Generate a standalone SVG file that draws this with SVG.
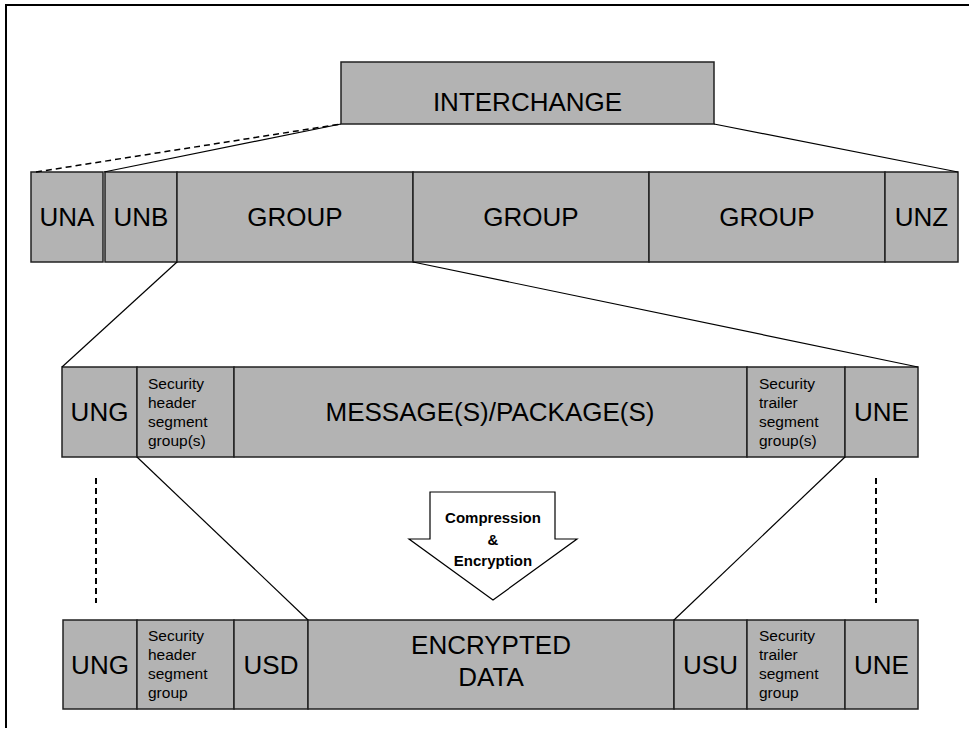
<svg xmlns="http://www.w3.org/2000/svg" width="969" height="731" viewBox="0 0 969 731">
<style>
.box{fill:#b3b3b3;stroke:#222;stroke-width:1.5}
.big{font-family:"Liberation Sans",Arial,sans-serif;font-size:26px;fill:#000;text-anchor:middle}
.small{font-family:"Liberation Sans",Arial,sans-serif;font-size:15.5px;fill:#000}
.arrowtxt{font-family:"Liberation Sans",Arial,sans-serif;font-size:15px;font-weight:bold;fill:#000;text-anchor:middle}
.ln{stroke:#000;stroke-width:1.2;fill:none}
.dash{stroke:#000;stroke-width:1.5;fill:none;stroke-dasharray:6 4}
.vdash{stroke:#000;stroke-width:2;fill:none;stroke-dasharray:6 4}
</style>
<rect width="969" height="731" fill="#fff"/>
<path d="M6,728 V5 H969" fill="none" stroke="#000" stroke-width="2"/>

<g id="interchange">
<rect class="box" x="341" y="62" width="373" height="62"/>
<text class="big" x="527.5" y="111">INTERCHANGE</text>
</g>

<g id="row1">
<g id="una"><rect class="box" x="31" y="172" width="72" height="90"/><text class="big" x="67" y="226">UNA</text></g>
<g id="unb"><rect class="box" x="105" y="172" width="72" height="90"/><text class="big" x="141" y="226">UNB</text></g>
<g id="group1"><rect class="box" x="177" y="172" width="236" height="90"/><text class="big" x="295" y="226">GROUP</text></g>
<g id="group2"><rect class="box" x="413" y="172" width="236" height="90"/><text class="big" x="531" y="226">GROUP</text></g>
<g id="group3"><rect class="box" x="649" y="172" width="236" height="90"/><text class="big" x="767" y="226">GROUP</text></g>
<g id="unz"><rect class="box" x="885" y="172" width="73" height="90"/><text class="big" x="921.5" y="226">UNZ</text></g>
</g>

<g id="row2">
<g id="ung1"><rect class="box" x="62" y="367" width="75" height="90"/><text class="big" x="99.5" y="421">UNG</text></g>
<g id="sechdr1"><rect class="box" x="137" y="367" width="97" height="90"/>
<text class="small"><tspan x="148" y="389">Security</tspan><tspan x="148" y="408">header</tspan><tspan x="148" y="427">segment</tspan><tspan x="148" y="446">group(s)</tspan></text></g>
<g id="message"><rect class="box" x="234" y="367" width="513" height="90"/><text class="big" x="490" y="421">MESSAGE(S)/PACKAGE(S)</text></g>
<g id="sectrl1"><rect class="box" x="747" y="367" width="98" height="90"/>
<text class="small"><tspan x="759" y="389">Security</tspan><tspan x="759" y="408">trailer</tspan><tspan x="759" y="427">segment</tspan><tspan x="759" y="446">group(s)</tspan></text></g>
<g id="une1"><rect class="box" x="845" y="367" width="73" height="90"/><text class="big" x="881.5" y="421">UNE</text></g>
</g>

<g id="arrow">
<polygon points="430,492 555,492 555,539 577,539 493,600 409,539 430,539" fill="#fff" stroke="#000" stroke-width="1.2"/>
<text class="arrowtxt"><tspan x="493" y="523">Compression</tspan><tspan x="493" y="545">&amp;</tspan><tspan x="493" y="566">Encryption</tspan></text>
</g>

<g id="row3">
<g id="ung2"><rect class="box" x="63" y="620" width="74" height="89"/><text class="big" x="100" y="674">UNG</text></g>
<g id="sechdr2"><rect class="box" x="137" y="620" width="97" height="89"/>
<text class="small"><tspan x="148" y="641">Security</tspan><tspan x="148" y="660">header</tspan><tspan x="148" y="679">segment</tspan><tspan x="148" y="698">group</tspan></text></g>
<g id="usd"><rect class="box" x="234" y="620" width="74" height="89"/><text class="big" x="271" y="674">USD</text></g>
<g id="encrypted"><rect class="box" x="308" y="620" width="366" height="89"/><text class="big"><tspan x="491" y="654">ENCRYPTED</tspan><tspan x="491" y="686">DATA</tspan></text></g>
<g id="usu"><rect class="box" x="674" y="620" width="73" height="89"/><text class="big" x="710.5" y="674">USU</text></g>
<g id="sectrl2"><rect class="box" x="747" y="620" width="98" height="89"/>
<text class="small"><tspan x="759" y="641">Security</tspan><tspan x="759" y="660">trailer</tspan><tspan x="759" y="679">segment</tspan><tspan x="759" y="698">group</tspan></text></g>
<g id="une2"><rect class="box" x="845" y="620" width="73" height="89"/><text class="big" x="881.5" y="674">UNE</text></g>
</g>

<g id="connectors">
<line class="dash" x1="36" y1="172" x2="341" y2="124"/>
<line class="ln" x1="104" y1="172" x2="341" y2="124"/>
<line class="ln" x1="714" y1="124" x2="958" y2="172"/>
<line class="ln" x1="177" y1="262" x2="62" y2="367"/>
<line class="ln" x1="413" y1="262" x2="918" y2="367"/>
<line class="ln" x1="137" y1="457" x2="308" y2="620"/>
<line class="ln" x1="845" y1="457" x2="674" y2="620"/>
<line class="vdash" x1="96" y1="478" x2="96" y2="603"/>
<line class="vdash" x1="876" y1="478" x2="876" y2="603"/>
</g>
</svg>
